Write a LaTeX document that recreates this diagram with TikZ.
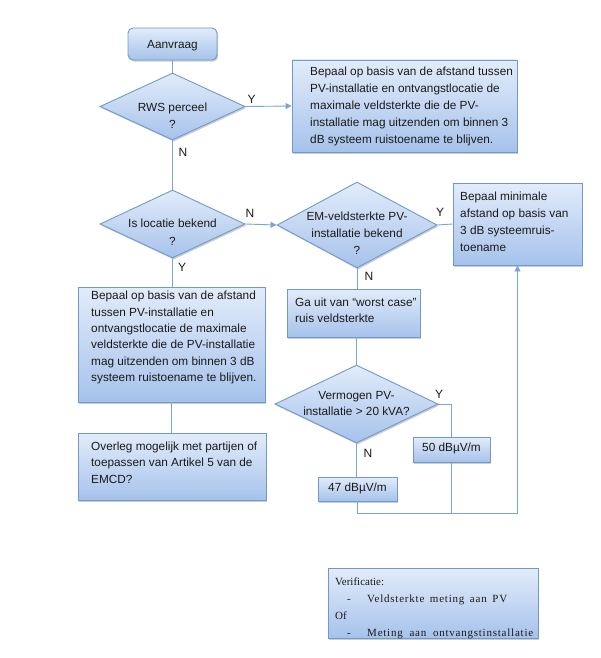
\documentclass[tikz,border=0pt]{standalone}
\usepackage{fontspec}
\setmainfont{Liberation Sans}
\newfontfamily\verifont{Liberation Serif}
\newfontfamily\verifontls[LetterSpace=7]{Liberation Serif}
\usetikzlibrary{shapes.geometric,shadows,arrows.meta}
\definecolor{bord}{HTML}{7099CE}
\definecolor{lnc}{HTML}{7BA3D6}
\definecolor{ftop}{HTML}{E2ECFA}
\definecolor{fbot}{HTML}{A6C2EB}
\definecolor{txt}{HTML}{1A1A1A}
\begin{document}
\begin{tikzpicture}[x=1pt,y=-1pt,
  shad/.style={drop shadow={shadow xshift=1.2pt,shadow yshift=-1.6pt,opacity=0.28,fill=black!70}},
  boxs/.style={draw=bord,line width=0.9pt,top color=ftop,bottom color=fbot,shad,inner sep=0pt,rectangle},
  dia/.style={diamond,draw=bord,line width=0.9pt,top color=ftop,bottom color=fbot,shad,inner sep=0pt},
  tx/.style={text=txt,inner sep=0pt,font=\fontsize{11.8}{17}\selectfont},
  txl/.style={tx,anchor=west,align=left},
  txc/.style={tx,align=center},
  lab/.style={text=txt,inner sep=0pt,font=\fontsize{12}{14}\selectfont},
  conn/.style={draw=lnc,line width=0.9pt},
  arr/.style={conn,-{Triangle[length=6pt,width=6pt]}}]
\useasboundingbox (0,0) rectangle (601,658);

% shapes
\node[boxs,rounded corners=5pt,minimum width=89pt,minimum height=32pt] (aan) at (172.5,44) {};
\node[dia,minimum width=145pt,minimum height=67pt] (rws) at (172.5,106.5) {};
\node[boxs,minimum width=225pt,minimum height=92pt] (b1) at (404.5,106) {};
\node[dia,minimum width=145pt,minimum height=68pt] (isl) at (172.5,224) {};
\node[dia,minimum width=160pt,minimum height=86pt] (em) at (357,225) {};
\node[boxs,minimum width=129pt,minimum height=82pt] (bmin) at (517.5,224) {};
\node[boxs,minimum width=133pt,minimum height=48pt] (ga) at (353.5,313) {};
\node[dia,minimum width=163pt,minimum height=78pt] (verm) at (356.5,404) {};
\node[boxs,minimum width=77pt,minimum height=25pt] (b50) at (451.5,449.5) {};
\node[boxs,minimum width=79pt,minimum height=24pt] (b47) at (357.5,489) {};
\node[boxs,minimum width=187pt,minimum height=115pt] (big) at (171.5,344.5) {};
\node[boxs,minimum width=188pt,minimum height=67pt] (ovl) at (172,466.5) {};
\node[boxs,minimum width=210pt,minimum height=70pt] (ver) at (433,603) {};

% texts
\node[txc] (taan) at (172.5,45.5) {Aanvraag};
\node[txc,font=\fontsize{11.8}{16.8}\selectfont] (trws) at (172.5,115.5) {RWS perceel\\?};
\node[txl] (t1) at (310,106) {Bepaal op basis van de afstand tussen\\PV-installatie en ontvangstlocatie de\\maximale veldsterkte die de PV-\\installatie mag uitzenden om binnen 3\\dB systeem ruistoename te blijven.};
\node[txc,font=\fontsize{11.8}{17.5}\selectfont] (tisl) at (172.5,232) {Is locatie bekend\\?};
\node[txc] (tem) at (357,233) {EM-veldsterkte PV-\\installatie bekend\\?};
\node[txl] (tmin) at (460,222) {Bepaal minimale\\afstand op basis van\\3 dB systeemruis-\\toename};
\node[txl,font=\fontsize{11.8}{16}\selectfont] (tga) at (295,310) {Ga uit van ``worst case''\\ruis veldsterkte};
\node[txc,font=\fontsize{11.8}{16.5}\selectfont] (tverm) at (356.5,403.5) {Vermogen PV-\\installatie > 20 kVA?};
\node[txc] (t50) at (451.5,448.5) {50 dBµV/m};
\node[txc] (t47) at (357.5,488.5) {47 dBµV/m};
\node[txl,font=\fontsize{11.8}{16.3}\selectfont] (tbig) at (91,337.5) {Bepaal op basis van de afstand\\tussen PV-installatie en\\ontvangstlocatie de maximale\\veldsterkte die de PV-installatie\\mag uitzenden om binnen 3 dB\\systeem ruistoename te blijven.};
\node[txl,font=\fontsize{11.8}{16.5}\selectfont] (tovl) at (91,462.5) {Overleg mogelijk met partijen of\\toepassen van Artikel 5 van de\\EMCD?};
\node[text=txt,inner sep=0pt,anchor=west,align=left,font=\verifont\fontsize{11}{17}\selectfont] (tver) at (335,608.5)
  {Verificatie:\\
   \makebox[32pt][l]{\hspace{12pt}-}{\verifontls\fontsize{11}{17}\selectfont\makebox[140pt][s]{Veldsterkte meting aan PV}}\\
   Of\\
   \makebox[32pt][l]{\hspace{12pt}-}{\verifontls\fontsize{11}{17}\selectfont\makebox[166pt][s]{Meting aan ontvangstinstallatie}}};

% labels
\node[lab] (ly1) at (251.5,99) {Y};
\node[lab] (ln1) at (183,152) {N};
\node[lab] (ln2) at (250,213) {N};
\node[lab] (ly2) at (182,267.5) {Y};
\node[lab] (ly3) at (440,212) {Y};
\node[lab] (ln3) at (369,276) {N};
\node[lab] (ly4) at (439,394) {Y};
\node[lab] (ln4) at (368,453) {N};

% connectors
\coordinate (bl) at (357.5,513);
\path[conn] (aan.south) -- (rws.north);
\path[arr] (rws.east) -- (b1.west);
\path[conn] (rws.south) -- (isl.north);
\path[arr] (isl.east) -- (em.west);
\path[conn] (em.east) -- (bmin.west);
\path[conn] (em.south) -- (ga.north -| em.south);
\path[conn] (isl.south) -- (big.north -| isl.south);
\path[conn] (big.south) -- (ovl.north -| big.south);
\path[conn] (ga.south -| verm.north) -- (verm.north);
\path[conn] (verm.east) -| (b50.north);
\path[conn] (verm.south) -- (b47.north -| verm.south);
\path[arr] (b47.south) -- (bl) -| (bmin.south);
\path[conn] (b50.south) -- (b50.south |- bl);
\end{tikzpicture}
\end{document}
